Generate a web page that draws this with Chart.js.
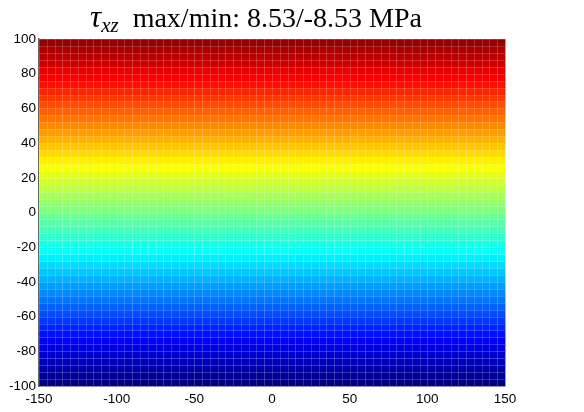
<!DOCTYPE html>
<html>
<head>
<meta charset="utf-8">
<script src="https://cdn.jsdelivr.net/npm/chart.js@4"></script>
<style>
  html, body { margin: 0; padding: 0; background: #fff; }
  #wrap { position: relative; width: 584px; height: 412px; }
  #title {
    position: absolute; left: 0; top: -1px; width: 512px; text-align: center;
    font-family: "Liberation Serif", "Times New Roman", serif; font-size: 28px; color: #000;
    white-space: nowrap;
  }
  #title i { font-size: 31px; }
  #title sub { font-size: 21px; vertical-align: -5px; }
</style>
</head>
<body>
<div id="wrap">
  <canvas id="field" width="584" height="412"></canvas>
  <div id="title"><i>τ<sub>xz</sub></i>&nbsp; max/min: 8.53/-8.53 MPa</div>
</div>
<script>
const xEdges = [-150, -145, -140, -135, -130, -125, -120, -115, -110, -105, -100, -95, -90, -85, -80, -75, -70, -65, -60, -55, -50, -45, -40, -35, -30, -25, -20, -15, -10, -5, 0, 5, 10, 15, 20, 25, 30, 35, 40, 45, 50, 55, 60, 65, 70, 75, 80, 85, 90, 95, 100, 105, 110, 115, 120, 125, 130, 135, 140, 145, 150];
const yEdges = [-100, -96, -92, -88, -84, -80, -76, -72, -68, -64, -60, -56, -52, -48, -44, -40, -36, -32, -28, -24, -20, -16, -12, -8, -4, 0, 4, 8, 12, 16, 20, 24, 28, 32, 36, 40, 44, 48, 52, 56, 60, 64, 68, 72, 76, 80, 84, 88, 92, 96, 100];
// shear stress per row (MPa), bottom to top
const rowStress = [-8.53, -8.19, -7.85, -7.51, -7.17, -6.82, -6.48, -6.14, -5.80, -5.46, -5.12, -4.78, -4.44, -4.09, -3.75, -3.41, -3.07, -2.73, -2.39, -2.05, -1.71, -1.36, -1.02, -0.68, -0.34, 0.00, 0.34, 0.68, 1.02, 1.36, 1.71, 2.05, 2.39, 2.73, 3.07, 3.41, 3.75, 4.09, 4.44, 4.78, 5.12, 5.46, 5.80, 6.14, 6.48, 6.82, 7.17, 7.51, 7.85, 8.19];
const colorLimits = [-8.53, 8.53];
const xTicks = [-150, -100, -50, 0, 50, 100, 150];
const yTicks = [-100, -80, -60, -40, -20, 0, 20, 40, 60, 80, 100];

function jet(v) {
    const t = (v - colorLimits[0]) / (colorLimits[1] - colorLimits[0]);
    const c = (a) => Math.round(255 * Math.max(0, Math.min(1, 1.5 - Math.abs(4 * t - a))));
    return `rgb(${c(3)},${c(2)},${c(1)})`;
}

const meshPlugin = {
    id: "mesh",
    beforeDatasetsDraw(chart) {
        const ctx = chart.ctx;
        const xs = chart.scales.x;
        const ys = chart.scales.y;
        ctx.save();
        for (let j = 0; j < rowStress.length; j++) {
            const y0 = ys.getPixelForValue(yEdges[j]);
            const y1 = ys.getPixelForValue(yEdges[j + 1]);
            ctx.fillStyle = jet(rowStress[j]);
            for (let i = 0; i < xEdges.length - 1; i++) {
                const x0 = xs.getPixelForValue(xEdges[i]);
                const x1 = xs.getPixelForValue(xEdges[i + 1]);
                ctx.fillRect(x0, y1, x1 - x0 + 0.5, y0 - y1 + 0.5);
            }
        }
        // cell edges
        ctx.strokeStyle = "rgba(255,255,255,0.17)";
        ctx.lineWidth = 1;
        ctx.beginPath();
        xEdges.forEach((e) => {
            const x = Math.round(xs.getPixelForValue(e)) + 0.5;
            ctx.moveTo(x, ys.top);
            ctx.lineTo(x, ys.bottom);
        });
        yEdges.forEach((e) => {
            const y = Math.round(ys.getPixelForValue(e)) + 0.5;
            ctx.moveTo(xs.left, y);
            ctx.lineTo(xs.right, y);
        });
        ctx.stroke();
        ctx.restore();
    },
};

const tickFont = { family: "'Liberation Sans', Arial, sans-serif", size: 13.5 };

new Chart(document.querySelector("#field"), {
    type: "scatter",
    data: { datasets: [{ data: [], showLine: false }] },
    plugins: [meshPlugin],
    options: {
        responsive: false,
        animation: false,
        layout: { padding: { top: 39, right: 79, left: 0, bottom: 0 } },
        plugins: { legend: { display: false }, tooltip: { enabled: false } },
        scales: {
            x: {
                type: "linear",
                min: -150,
                max: 150,
                afterBuildTicks: (s) => { s.ticks = xTicks.map((v) => ({ value: v })); },
                afterFit: (s) => { s.height = 26; },
                grid: { display: false, drawTicks: false, tickLength: 0 },
                border: { display: false },
                ticks: { color: "#000", font: tickFont, padding: 5, maxRotation: 0 },
            },
            y: {
                type: "linear",
                min: -100,
                max: 100,
                afterBuildTicks: (s) => { s.ticks = yTicks.map((v) => ({ value: v })); },
                afterFit: (s) => { s.width = 39; },
                grid: { display: false, drawTicks: false, tickLength: 0 },
                border: { display: true, color: "#666", width: 1.5 },
                ticks: { color: "#000", font: tickFont, padding: 3 },
            },
        },
    },
});
</script>
</body>
</html>
